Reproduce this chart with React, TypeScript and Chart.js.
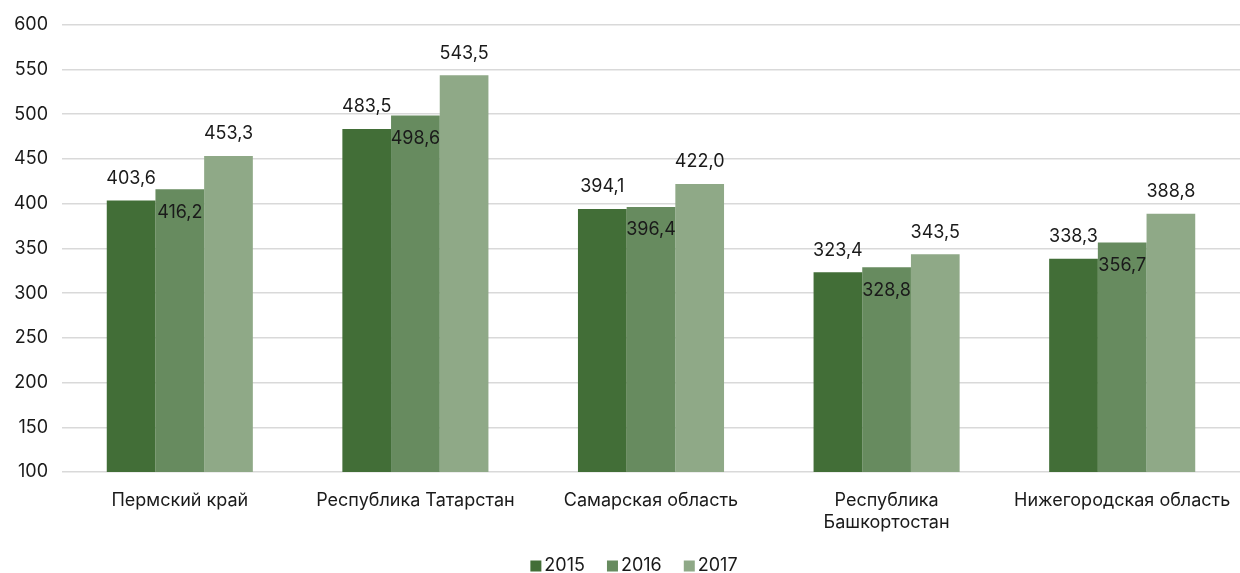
import React, { useEffect, useRef } from "react";
import { Chart, registerables } from "chart.js";

Chart.register(...registerables);

const categories: (string | string[])[] = [
  "Пермский край",
  "Республика Татарстан",
  "Самарская область",
  ["Республика", "Башкортостан"],
  "Нижегородская область",
];
const seriesNames = ["2015", "2016", "2017"];
const values2015 = [403.6, 483.5, 394.1, 323.4, 338.3];
const values2016 = [416.2, 498.6, 396.4, 328.8, 356.7];
const values2017 = [453.3, 543.5, 422.0, 343.5, 388.8];
const colors = ["#426e37", "#678b5f", "#8fa987"];

const FONT = "Inter, 'DejaVu Sans', sans-serif";
const TEXT = "#1a1a1a";

const labelPlugin = {
  id: "barLabels",
  afterDatasetsDraw(chart: any) {
    const ctx = chart.ctx;
    ctx.save();
    ctx.font = `18px ${FONT}`;
    ctx.fillStyle = TEXT;
    ctx.textAlign = "center";
    ctx.textBaseline = "middle";
    chart.data.datasets.forEach((ds: any, di: number) => {
      const meta = chart.getDatasetMeta(di);
      meta.data.forEach((el: any, i: number) => {
        const v = ds.data[i] as number;
        const txt = v.toFixed(1).replace(".", ",");
        const y = di === 1 ? el.y + 23 : el.y - 22;
        ctx.fillText(txt, el.x, y);
      });
    });
    ctx.restore();
  },
};

const legendPlugin = {
  id: "customLegend",
  afterDraw(chart: any) {
    const ctx = chart.ctx;
    ctx.save();
    ctx.font = `18px ${FONT}`;
    ctx.textBaseline = "middle";
    ctx.textAlign = "left";
    const box = 11;
    const gapBox = 3;
    const gapItem = 22;
    const items = chart.data.datasets.map((ds: any, i: number) => ({
      label: ds.label as string,
      color: colors[i],
      w: ctx.measureText(ds.label).width,
    }));
    const total =
      items.reduce((a: number, it: any) => a + box + gapBox + it.w, 0) + gapItem * (items.length - 1);
    let x = 634 - total / 2;
    const y = 566;
    items.forEach((it: any) => {
      ctx.fillStyle = it.color;
      ctx.fillRect(x, y - box / 2, box, box);
      x += box + gapBox;
      ctx.fillStyle = TEXT;
      ctx.fillText(it.label, x, y);
      x += it.w + gapItem;
    });
    ctx.restore();
  },
};

export default function App() {
  const ref = useRef<HTMLCanvasElement | null>(null);
  useEffect(() => {
    if (!ref.current) return;
    const chart = new Chart(ref.current, {
      type: "bar",
      data: {
        labels: categories,
        datasets: [values2015, values2016, values2017].map((d, i) => ({
          label: seriesNames[i],
          data: d,
          backgroundColor: colors[i],
          borderWidth: 0,
          barPercentage: 1,
          categoryPercentage: 0.62,
        })),
      },
      options: {
        animation: false,
        responsive: false,
        maintainAspectRatio: false,
        layout: { padding: { top: 14, right: 0, left: 0, bottom: 0 } },
        scales: {
          y: {
            min: 100,
            max: 600,
            ticks: {
              stepSize: 50,
              color: TEXT,
              font: { family: FONT, size: 18 },
              padding: 14,
            },
            grid: { color: "#d9d9d9", lineWidth: 1.5, drawTicks: false },
            border: { display: false },
            afterFit: (s: any) => {
              s.width = 62;
            },
          },
          x: {
            ticks: {
              color: TEXT,
              font: { family: FONT, size: 18 },
              padding: 18,
              maxRotation: 0,
              autoSkip: false,
            },
            grid: { display: false, drawTicks: false },
            border: { display: false },
            afterFit: (s: any) => {
              s.height = 101;
              s.paddingLeft = 0;
              s.paddingRight = 0;
            },
          },
        },
        plugins: {
          legend: { display: false },
          tooltip: { enabled: false },
        },
      },
      plugins: [labelPlugin, legendPlugin],
    });
    return () => chart.destroy();
  }, []);
  return (
    <div style={{ position: "fixed", left: 0, top: 0, width: 1240, height: 573, background: "#fff" }}>
      <canvas ref={ref} width={1240} height={573} style={{ width: 1240, height: 573 }} />
    </div>
  );
}
